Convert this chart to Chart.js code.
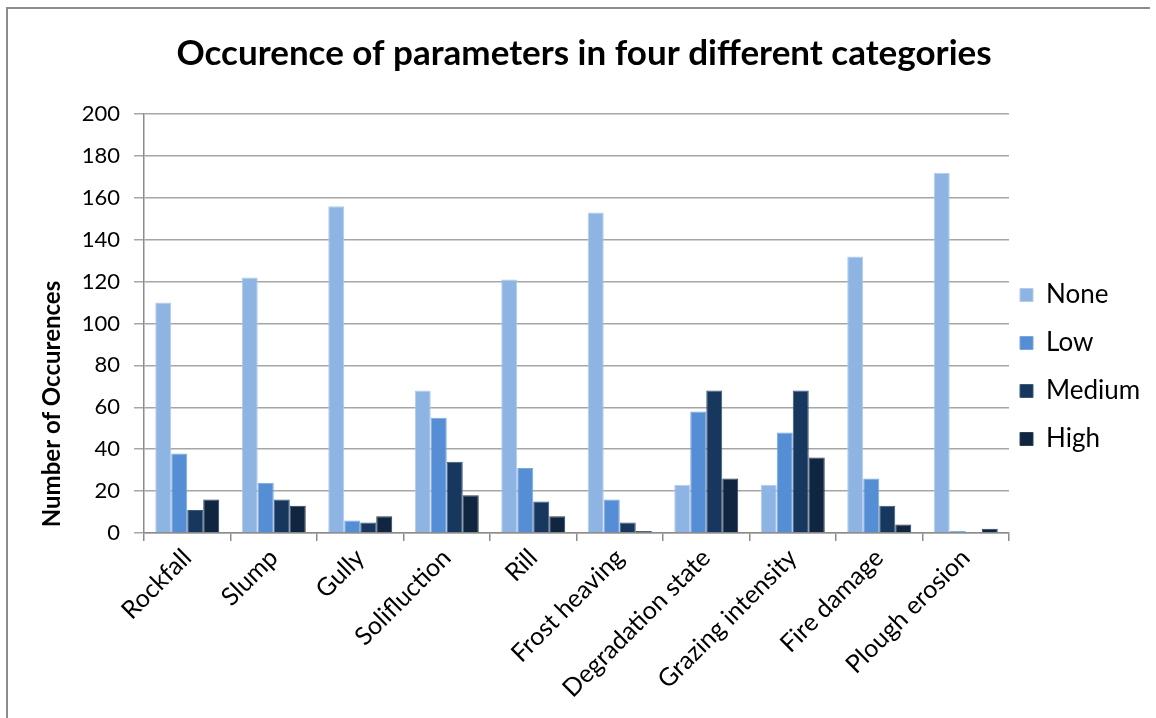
<!DOCTYPE html>
<html>
<head>
  <title>Occurence of parameters in four different categories</title>
  <script src="https://cdn.jsdelivr.net/npm/chart.js"></script>
  <style>
    html, body { margin: 0; padding: 0; background: #ffffff; }
  </style>
</head>
<body>
  <canvas id="myChart" width="1156" height="718"></canvas>

  <script>
    // Data
    var categories = ['Rockfall', 'Slump', 'Gully', 'Solifluction', 'Rill',
      'Frost heaving', 'Degradation state', 'Grazing intensity', 'Fire damage', 'Plough erosion'];
    var seriesNames = ['None', 'Low', 'Medium', 'High'];
    var noneCounts   = [110, 122, 156, 68, 121, 153, 23, 23, 132, 172];
    var lowCounts    = [38, 24, 6, 55, 31, 16, 58, 48, 26, 1];
    var mediumCounts = [11, 16, 5, 34, 15, 5, 68, 68, 13, 0];
    var highCounts   = [16, 13, 8, 18, 8, 1, 26, 36, 4, 2];
    var yMin = 0, yMax = 200, yStep = 20;

    var fillColors = ['#8eb4e3', '#558ed5', '#17375e', '#10253f'];
    var edgeColors = ['#b3cbea', '#7aa6dd', '#3a5878', '#2c3e55'];
    var FONT = 'Lato, "Open Sans", sans-serif';

    var seriesValues = [noneCounts, lowCounts, mediumCounts, highCounts];
    var datasets = seriesNames.map(function (name, i) {
      return {
        label: name,
        data: seriesValues[i],
        backgroundColor: fillColors[i],
        borderColor: edgeColors[i],
        borderWidth: 1,
        categoryPercentage: 0.74,
        barPercentage: 1.0
      };
    });

    // nudge title and legend boxes after layout
    function shiftBox(box, dx, dy) {
      if (!box) return;
      box.left += dx; box.right += dx;
      box.top += dy; box.bottom += dy;
    }

    // white background, frame and rotated y-axis title
    var decorations = {
      id: 'decorations',
      afterLayout: function (chart) {
        shiftBox(chart.titleBlock, 6, 0);
        shiftBox(chart.legend, -11, 8);
      },
      beforeDraw: function (chart) {
        var ctx = chart.ctx;
        ctx.save();
        ctx.fillStyle = '#ffffff';
        ctx.fillRect(0, 0, chart.width, chart.height);
        ctx.strokeStyle = '#8c8c8c';
        ctx.lineWidth = 2;
        ctx.beginPath();
        ctx.moveTo(7, chart.height + 5);
        ctx.lineTo(7, 8);
        ctx.lineTo(1150, 8);
        ctx.stroke();
        ctx.restore();
      },
      afterDraw: function (chart) {
        var ctx = chart.ctx;
        ctx.save();
        ctx.translate(52, 404);
        ctx.rotate(-Math.PI / 2);
        ctx.fillStyle = '#000000';
        ctx.font = 'bold 24px ' + FONT;
        ctx.textAlign = 'center';
        ctx.textBaseline = 'middle';
        ctx.fillText('Number of Occurences', 0, 0);
        ctx.restore();
      }
    };

    var ctx = document.getElementById('myChart').getContext('2d');
    var myChart = new Chart(ctx, {
      type: 'bar',
      data: { labels: categories, datasets: datasets },
      plugins: [decorations],
      options: {
        responsive: false,
        animation: false,
        layout: { padding: { left: 0, right: 0, top: 0, bottom: 0 } },
        scales: {
          x: {
            afterFit: function (scale) { scale.height = 185; },
            grid: {
              offset: true,
              drawOnChartArea: false,
              drawTicks: true,
              tickLength: 8,
              color: '#8c8c8c',
              lineWidth: 1.5
            },
            border: { color: '#8c8c8c', width: 1.5 },
            ticks: {
              color: '#000000',
              font: { family: FONT, size: 25 },
              minRotation: 45,
              maxRotation: 45,
              autoSkip: false,
              padding: 2
            }
          },
          y: {
            min: yMin,
            max: yMax,
            afterFit: function (scale) { scale.width = 144; },
            grid: {
              color: '#a6a6a6',
              lineWidth: 1.5,
              drawTicks: true,
              tickLength: 10
            },
            border: { color: '#8c8c8c', width: 1.5 },
            ticks: {
              stepSize: yStep,
              color: '#000000',
              font: { family: FONT, size: 22 },
              padding: 14
            }
          }
        },
        plugins: {
          title: {
            display: true,
            text: 'Occurence of parameters in four different categories',
            color: '#000000',
            font: { family: FONT, size: 35, weight: 'bold' },
            padding: { top: 33, bottom: 39 }
          },
          legend: {
            position: 'right',
            maxWidth: 147,
            labels: {
              color: '#000000',
              font: { family: FONT, size: 26 },
              boxWidth: 13,
              boxHeight: 13,
              padding: 22
            }
          },
          tooltip: { enabled: false }
        }
      }
    });
  </script>
</body>
</html>
